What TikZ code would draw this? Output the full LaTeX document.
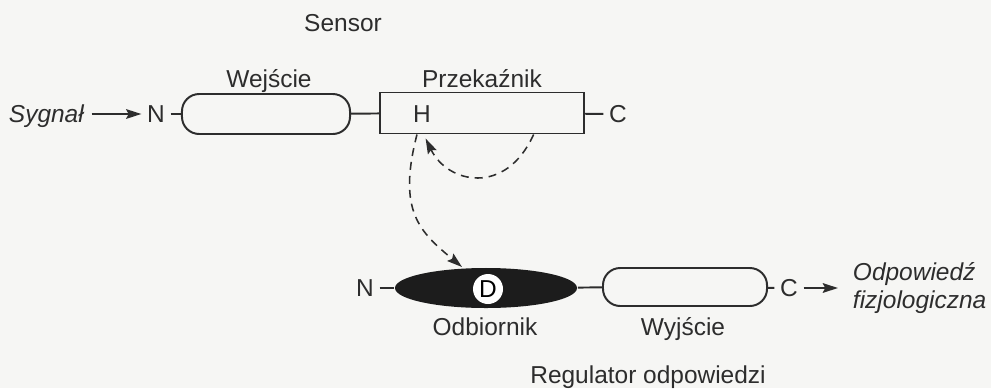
\documentclass[tikz,border=0pt]{standalone}
\usepackage{fontspec}
\setmainfont{Liberation Sans}
\usetikzlibrary{arrows.meta,shapes.geometric}
\definecolor{ink}{RGB}{45,45,45}
\definecolor{inkfill}{RGB}{28,28,28}
\definecolor{paper}{RGB}{246,246,244}

\begin{document}
\begin{tikzpicture}[x=0.025cm, y=-0.025cm, line width=1.4pt, color=ink,
  font=\fontsize{17.4}{20.5}\selectfont,
  lbl/.style={inner sep=0.12cm, text height=12.5pt, text depth=0pt},
  italic/.style={font=\fontsize{17.4}{19.9}\selectfont\itshape},
  pill/.style={draw, rounded corners=0.43cm, minimum width=#1, minimum height=1cm, inner sep=0},
  dsh/.style={dash pattern=on 0.2cm off 0.15cm, line width=1.1pt},
  tip/.style={-{Stealth[length=0.38cm,width=0.24cm,inset=0.06cm]}}]
\fill[paper] (0,0) rectangle (991,388);
\useasboundingbox (0,0) rectangle (991,388);
\node[anchor=base] (senslbl) at (343,31) {Sensor};
\node[anchor=base] (inlbl) at (269,87) {Wejście};
\node[anchor=base] (relaylbl) at (482,87) {Przekaźnik};
\node[lbl, italic, anchor=west, inner sep=0] (sig) at (8,114) {Sygnał};
\node[lbl] (nT) at (156,114) {N};
\node[pill=4.2cm] (inpill) at (266,114) {};
\node[draw, minimum width=5.075cm, minimum height=1.025cm, inner sep=0] (relay) at (482,113) {};
\node[lbl] (hres) at (422,114) {H};
\node[lbl] (cT) at (618,114) {C};
\node[lbl] (nB) at (365,288) {N};
\node[ellipse, fill=inkfill, minimum width=4.55cm, minimum height=1cm, inner sep=0] (recv) at (486,288) {};
\node[circle, fill=white, minimum size=0.75cm, inner sep=0, text=black] (dres) at (488,289) {D};
\node[pill=4.1cm, minimum height=0.95cm] (outpill) at (685,287) {};
\node[lbl] (cB) at (789,288) {C};
\node[italic, anchor=west, align=left, inner sep=0] (resp) at (852,288) {Odpowiedź\\fizjologiczna};
\node[anchor=base] (recvlbl) at (485,335) {Odbiornik};
\node[anchor=base] (outlbl) at (683,335) {Wyjście};
\node[anchor=base] (reglbl) at (648,383) {Regulator odpowiedzi};
\draw[tip, shorten <=0.17cm] (sig) -- (nT);
\draw (nT) -- (inpill);
\draw (inpill) -- (relay);
\draw (relay) -- (cT);
\draw (nB) -- (recv);
\draw (recv) -- (outpill);
\draw (outpill) -- (cB);
\draw[tip, shorten >=0.35cm] (cB) -- (resp);
\draw[dsh, tip] ([xshift=1.29cm]relay.south) .. controls +(-28,62) and +(22,45) .. ([xshift=-1.41cm, yshift=-0.1cm]relay.south);
\draw[dsh, tip] ([xshift=-1.625cm]relay.south) .. controls +(-20,77) and +(-42,-35) .. ([xshift=-0.6cm]recv.north);
\end{tikzpicture}
\end{document}
